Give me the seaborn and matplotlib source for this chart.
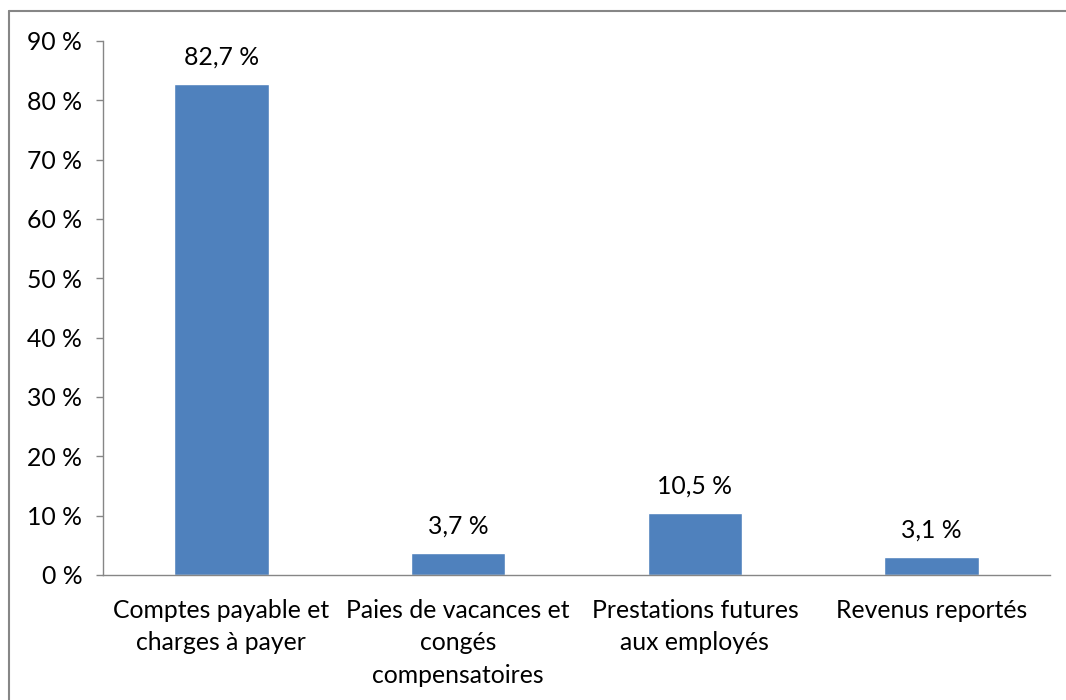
import matplotlib
matplotlib.use("Agg")
import matplotlib.pyplot as plt
import seaborn as sns
import pandas as pd
from matplotlib.lines import Line2D

categories = ["Comptes payable et\ncharges à payer",
              "Paies de vacances et\ncongés\ncompensatoires",
              "Prestations futures\naux employés",
              "Revenus reportés"]
values = [82.7, 3.7, 10.5, 3.1]
value_labels = ["82,7 %", "3,7 %", "10,5 %", "3,1 %"]
yticks = [0, 10, 20, 30, 40, 50, 60, 70, 80, 90]

sns.set_theme(style="white")
plt.rcParams['font.family'] = ['Lato', 'DejaVu Sans']

FS = 17.8
fig = plt.figure(figsize=(10.66, 7.0), dpi=100)
ax = fig.add_axes([103/1066, 1-575/700, (1050-103)/1066, (575-41)/700])

df = pd.DataFrame({"cat": categories, "val": values})
sns.barplot(data=df, x="cat", y="val", color="#4F81BD", width=0.4, ax=ax, saturation=1)

ax.set_xlim(-0.5, 3.5)
ax.set_ylim(0, 90)
ax.set_yticks(yticks)
ax.set_yticklabels([f"{t} %" for t in yticks], fontsize=FS, color="black")
ax.set_xlabel("")
ax.set_ylabel("")
ax.tick_params(axis='x', which='major', length=0, labelsize=FS, pad=17.5, colors="black")
for lab in ax.get_xticklabels():
    lab.set_linespacing(1.48)
ax.set_xticks([-0.5, 0.5, 1.5, 2.5, 3.5], minor=True)
ax.tick_params(axis='x', which='minor', length=5, color="#868686", width=1)
ax.tick_params(axis='y', length=5, color="#868686", width=1, direction='out', left=True, pad=10)

for s in ["top", "right"]:
    ax.spines[s].set_visible(False)
for s in ["left", "bottom"]:
    ax.spines[s].set_color("#868686")
    ax.spines[s].set_linewidth(1)

for i, (v, lab) in enumerate(zip(values, value_labels)):
    ax.annotate(lab, (i, v), xytext=(0, 14), textcoords="offset points",
                ha="center", va="baseline", fontsize=FS, color="black")

x0 = 8.5 / 1066
y0 = 1 - 10.5 / 700
fig.lines.append(Line2D([x0, 1.0], [y0, y0], transform=fig.transFigure, color="#868686", linewidth=1.5))
fig.lines.append(Line2D([x0, x0], [0.0, y0], transform=fig.transFigure, color="#868686", linewidth=1.5))

fig.savefig("out.png", dpi=100)
